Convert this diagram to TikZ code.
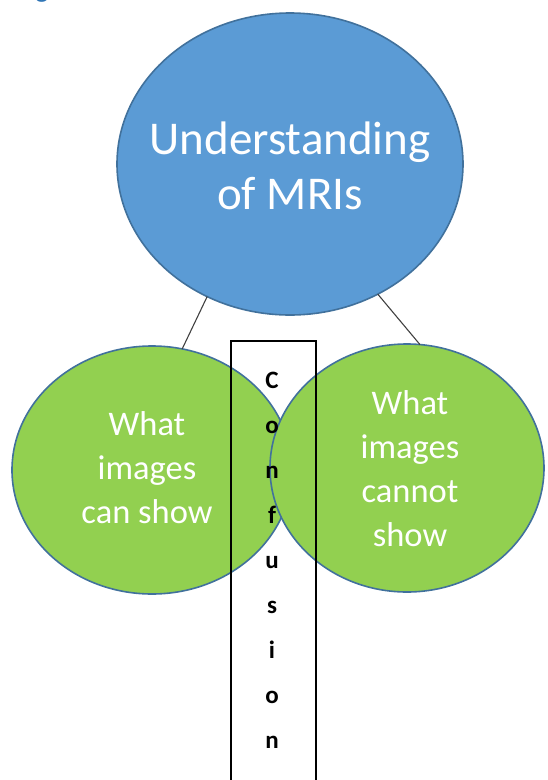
\documentclass[tikz,border=0pt]{standalone}
\usepackage{fontspec}
\setmainfont{Carlito}
\usetikzlibrary{positioning}
\usetikzlibrary{shapes}
\definecolor{mriblue}{RGB}{91,155,213}
\definecolor{blobgreen}{RGB}{146,208,80}
\definecolor{rimblue}{RGB}{65,113,156}
\definecolor{headblue}{RGB}{46,116,181}
\definecolor{stemgray}{RGB}{64,64,64}
\tikzset{
	blob/.style={ellipse,draw=rimblue,line width=1.6pt,inner sep=0pt,outer sep=0pt},
	blobtext/.style={align=center,text=white,inner sep=0pt},
	stem/.style={draw=stemgray,line width=1.1pt},
	confletter/.style={anchor=base,inner sep=0pt,font=\fontsize{25}{29}\selectfont\bfseries},
}

\begin{document}
\begin{tikzpicture}[x=1pt,y=-1pt]
	\clip (0,0) rectangle (547,780);

	% heading cut off at the top..............
	\node [anchor=base,inner sep=0pt,text=headblue,font=\fontsize{28}{34}\selectfont] (headg) at (42,-3) {g};

	% top ellipse...................
	\node [blob,fill=mriblue,minimum width=346pt,minimum height=302pt] (mri) at (290,164) {};
	\node [blobtext,font=\fontsize{47}{55}\selectfont] (mritext) at (290,166) {Understanding\\of MRIs};

	% two green ellipses..............
	\node [blob,fill=blobgreen,minimum width=280pt,minimum height=248pt] (can) at (152,470) {};
	\node [blob,fill=blobgreen,minimum width=274pt,minimum height=248pt] (cannot) at (407,468) {};
	\node [blobtext,font=\fontsize{34.5}{44}\selectfont] (cantext) at (147,467.5) {What\\images\\can show};
	\node [blobtext,font=\fontsize{34.5}{44}\selectfont] (cannottext) at (410,469) {What\\images\\cannot\\show};

	% connectors.....................
	\draw [stem] (mri.238.5) -- (can.76.3);
	\draw [stem] (mri.304.7) -- (cannot.84.4);

	% confusion box.....................
	\node [draw=black,line width=1.6pt,inner sep=0pt,outer sep=0pt,anchor=north west,minimum width=85pt,minimum height=460pt] (confbox) at (231,341) {};
	\foreach \ch [count=\k from 0] in {C,o,n,f,u,s,i,o,n}
		\node [confletter] (conf\k) at (272,388+45.1*\k) {\ch};
\end{tikzpicture}
\end{document}
